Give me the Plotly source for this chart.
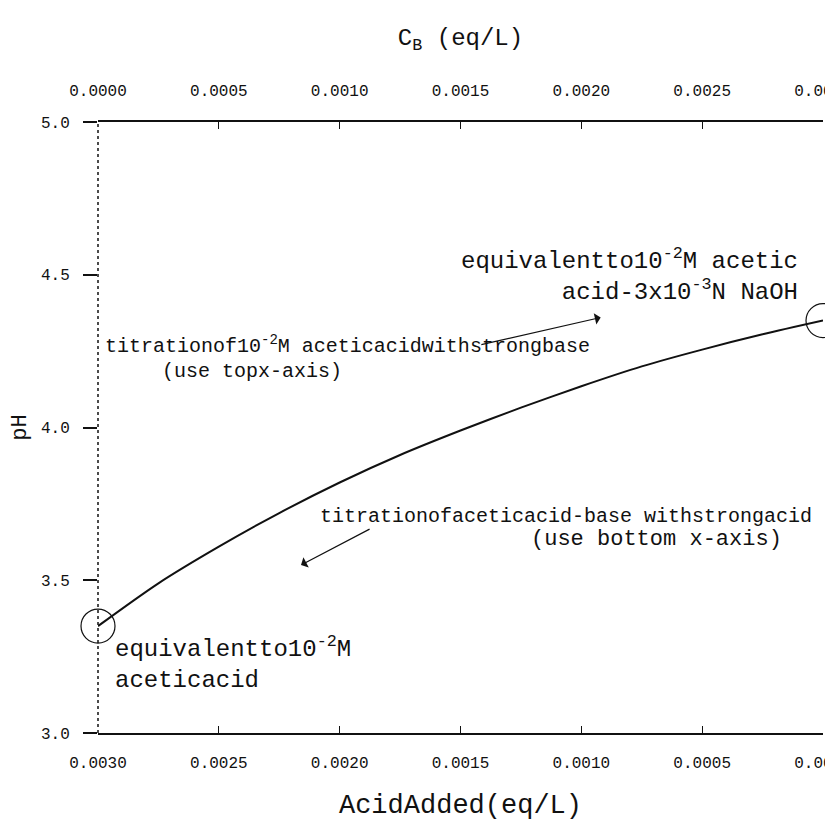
import plotly.graph_objects as go

# ---- data ----
cb_added = [0.0, 0.00025, 0.0005, 0.00075, 0.001, 0.00125, 0.0015,
            0.00175, 0.002, 0.00225, 0.0025, 0.00275, 0.003]
ph_values = [3.35, 3.49, 3.61, 3.72, 3.82, 3.91, 3.99,
             4.065, 4.135, 4.20, 4.255, 4.305, 4.35]

endpoint_cb = [0.0, 0.003]
endpoint_ph = [3.35, 4.35]

x_ticks = [0.0, 0.0005, 0.001, 0.0015, 0.002, 0.0025, 0.003]
x_ticklabels = ["0.0000", "0.0005", "0.0010", "0.0015", "0.0020", "0.0025", "0.0030"]
y_ticks = [3.0, 3.5, 4.0, 4.5, 5.0]
y_ticklabels = ["3.0", "3.5", "4.0", "4.5", "5.0"]

# arrows (C_B, pH): head and tail
arrow_top_head = (0.00208, 4.36)
arrow_top_tail = (0.00158, 4.27)
arrow_bot_head = (0.00084, 3.55)
arrow_bot_tail = (0.00113, 3.67)

FONT = "Liberation Mono, Courier New, monospace"
INK = "#111111"

fig = go.Figure()

fig.add_trace(go.Scatter(
    x=cb_added, y=ph_values, xaxis="x2", yaxis="y",
    mode="lines", line=dict(color=INK, width=2, shape="spline", smoothing=0.8),
    showlegend=False, hoverinfo="skip"))

fig.add_trace(go.Scatter(
    x=endpoint_cb, y=endpoint_ph, xaxis="x2", yaxis="y",
    mode="markers", cliponaxis=False,
    marker=dict(symbol="circle-open", size=34, color=INK,
                line=dict(color=INK, width=1.2)),
    showlegend=False, hoverinfo="skip"))

# invisible trace to activate the bottom axis
fig.add_trace(go.Scatter(x=[0.003 - c for c in endpoint_cb], y=endpoint_ph,
                         xaxis="x", yaxis="y", mode="markers",
                         marker=dict(opacity=0), showlegend=False, hoverinfo="skip"))

tickfont = dict(family=FONT, size=16, color=INK)

fig.update_layout(
    width=833, height=830,
    margin=dict(l=90, r=18, t=114, b=105, autoexpand=False),
    paper_bgcolor="white", plot_bgcolor="white",
    font=dict(family=FONT, color=INK),
    xaxis=dict(
        range=[0.003, 0.0], tickvals=x_ticks, ticktext=x_ticklabels,
        side="bottom", anchor="y", showgrid=False, zeroline=False,
        showline=True, linecolor=INK, linewidth=2,
        ticks="inside", ticklen=7, tickcolor=INK, tickwidth=1,
        tickfont=tickfont, ticklabelstandoff=14, automargin=False,
        ticklabeloverflow="allow",
        title=dict(text="AcidAdded(eq/L)", font=dict(family=FONT, size=27, color=INK),
                   standoff=22)),
    xaxis2=dict(
        range=[0.0, 0.003], tickvals=x_ticks, ticktext=x_ticklabels,
        side="top", overlaying="x", anchor="y", showgrid=False, zeroline=False,
        showline=True, linecolor=INK, linewidth=2,
        ticks="inside", ticklen=7, tickcolor=INK, tickwidth=1,
        tickfont=tickfont, ticklabelstandoff=18, automargin=False,
        ticklabeloverflow="allow",
        title=dict(text="C<sub>B</sub> (eq/L)", font=dict(family=FONT, size=24, color=INK),
                   standoff=30)),
    yaxis=dict(
        range=[3.0, 5.0], tickvals=y_ticks, ticktext=y_ticklabels,
        showgrid=False, zeroline=False, showline=False,
        ticks="outside", ticklen=14, tickcolor=INK, tickwidth=1.5,
        tickfont=tickfont, ticklabelstandoff=10, automargin=False,
        ticklabeloverflow="allow",
        title=dict(text="pH", font=dict(family=FONT, size=22, color=INK), standoff=12)),
)

# dotted side frame lines
for xp in (0.0, 1.004):
    fig.add_shape(type="line", xref="paper", yref="paper", x0=xp, x1=xp, y0=0, y1=1,
                  line=dict(color=INK, width=1.5, dash="dot"))

# arrows
for head, tail in ((arrow_top_head, arrow_top_tail), (arrow_bot_head, arrow_bot_tail)):
    fig.add_annotation(x=head[0], y=head[1], xref="x2", yref="y",
                       ax=tail[0], ay=tail[1], axref="x2", ayref="y",
                       text="", showarrow=True, arrowhead=1, arrowsize=1.6,
                       arrowwidth=1.2, arrowcolor=INK)

big = dict(family=FONT, size=24, color=INK)
mid = dict(family=FONT, size=20, color=INK)

fig.add_annotation(xref="paper", yref="paper", x=0.968, y=0.75,
                   xanchor="right", yanchor="middle", align="right", showarrow=False,
                   text="equivalentto10<sup>-2</sup>M acetic<br>acid-3x10<sup>-3</sup>N NaOH",
                   font=big)
fig.add_annotation(xref="paper", yref="paper", x=0.007, y=0.635,
                   xanchor="left", yanchor="middle", showarrow=False,
                   text="titrationof10<sup>-2</sup>M aceticacidwithstrongbase", font=mid)
fig.add_annotation(xref="paper", yref="paper", x=0.0855, y=0.591,
                   xanchor="left", yanchor="middle", showarrow=False,
                   text="(use topx-axis)", font=mid)
fig.add_annotation(xref="paper", yref="paper", x=0.3034, y=0.355,
                   xanchor="left", yanchor="middle", showarrow=False,
                   text="titrationofaceticacid-base withstrongacid", font=mid)
fig.add_annotation(xref="paper", yref="paper", x=0.77, y=0.316,
                   xanchor="center", yanchor="middle", showarrow=False,
                   text="(use bottom x-axis)", font=dict(family=FONT, size=22, color=INK))
fig.add_annotation(xref="paper", yref="paper", x=0.021, y=0.115,
                   xanchor="left", yanchor="middle", align="left", showarrow=False,
                   text="equivalentto10<sup>-2</sup>M<br>aceticacid", font=big)

fig.write_html("out.html")
